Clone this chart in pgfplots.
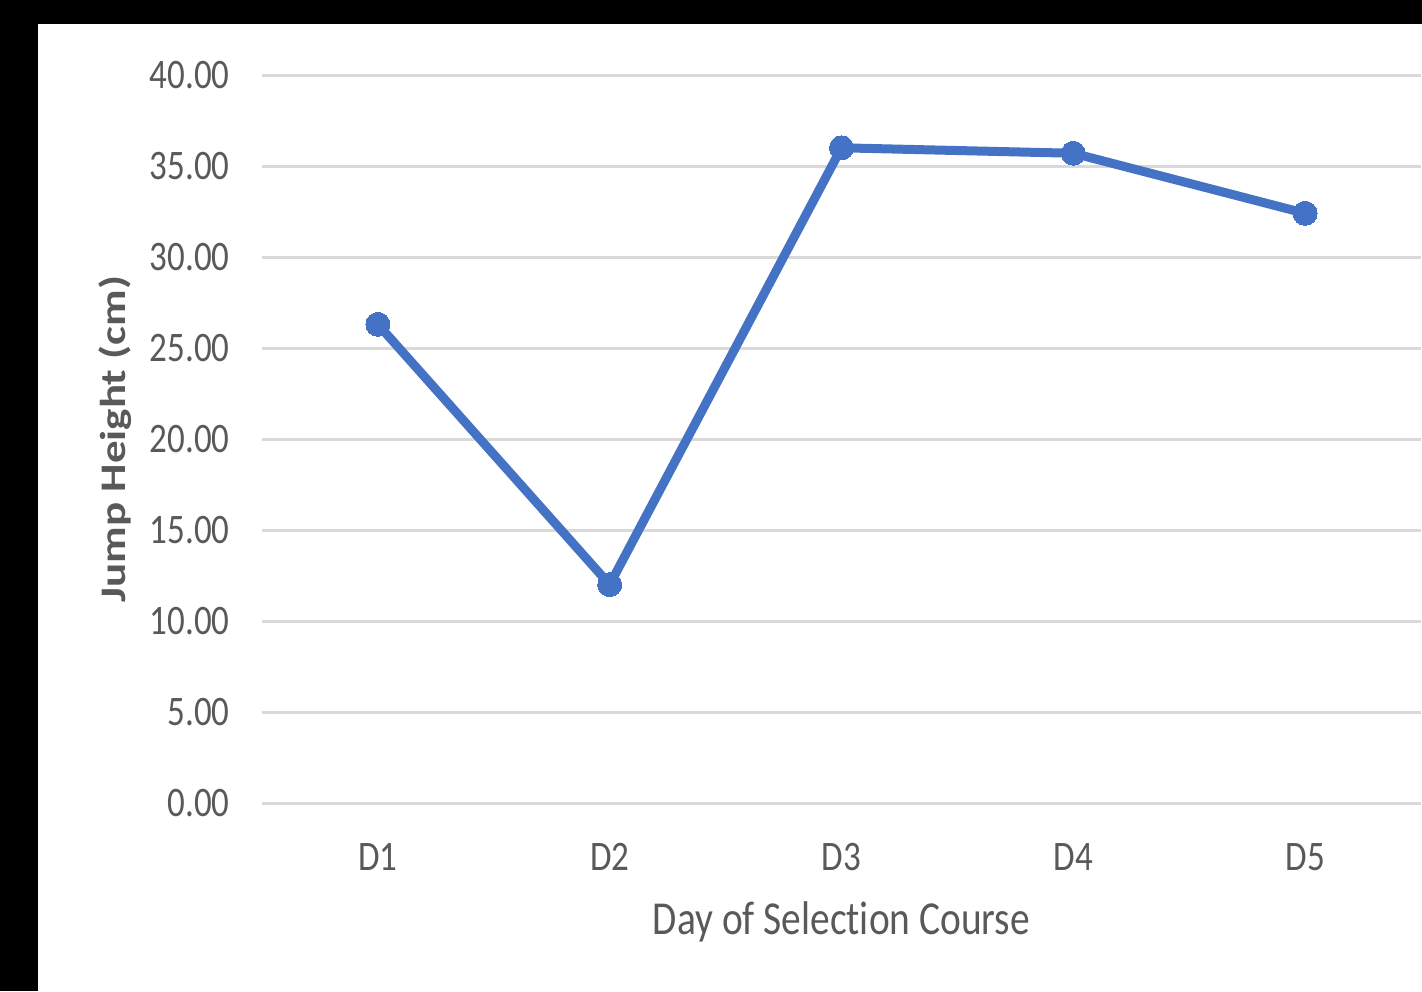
\documentclass[border=0pt]{standalone}
\usepackage{fontspec}
\setmainfont{Carlito}[Ligatures=NoCommon]
\usepackage{pgfplots}
\pgfplotsset{compat=1.18}
\definecolor{linecol}{HTML}{4472C4}
\definecolor{txtgray}{HTML}{595959}
\definecolor{gridgray}{HTML}{D9D9D9}
\newcommand{\vs}[1]{\scalebox{1}[1.2]{#1}}
\begin{document}
\begin{tikzpicture}
\useasboundingbox (0,0) rectangle (711pt,495.5pt);
\fill[black] (0,0) rectangle (711pt,495.5pt);
\fill[white] (19pt,0) rectangle (711pt,483.5pt);
\begin{axis}[
  at={(131pt,94pt)}, anchor=south west,
  scale only axis, width=579.5pt, height=364pt,
  xmin=-0.5, xmax=4.5, ymin=0, ymax=40,
  xtick={0,1,2,3,4}, xticklabels={\vs{D1},\vs{D2},\vs{D3},\vs{D4},\vs{D5}},
  ytick={0,5,...,40},
  yticklabel={\vs{\pgfmathprintnumber[fixed,fixed zerofill,precision=2]{\tick}}},
  /pgf/number format/assume math mode=true,
  axis line style={draw=none},
  major tick length=0pt,
  ymajorgrids, grid style={gridgray, line width=1.5pt},
  yticklabel style={anchor=east, inner sep=0pt, xshift=-16pt, font=\fontsize{17.5}{20}\selectfont, text=txtgray},
  xticklabel style={anchor=center, inner sep=0pt, yshift=-27pt, font=\fontsize{17.5}{20}\selectfont, text=txtgray},
  xlabel={\vs{Day of Selection Course}},
  ylabel={\scalebox{1.25}[1]{Jump Height (cm)}},
  xlabel style={at={(axis description cs:0.5,-0.1635)}, anchor=center, inner sep=0pt, font=\fontsize{19.7}{22}\selectfont, text=txtgray},
  ylabel style={at={(axis description cs:-0.1268,0.5)}, anchor=center, inner sep=0pt, font=\fontsize{18}{22}\selectfont\bfseries, text=txtgray},
]
\addplot[linecol, line width=4.5pt, mark=*, mark size=6pt, mark options={fill=linecol, draw=linecol, line width=0pt}] coordinates {
 (0,26.3) (1,12.0) (2,36.0) (3,35.7) (4,32.4)
};
\end{axis}
\end{tikzpicture}
\end{document}
